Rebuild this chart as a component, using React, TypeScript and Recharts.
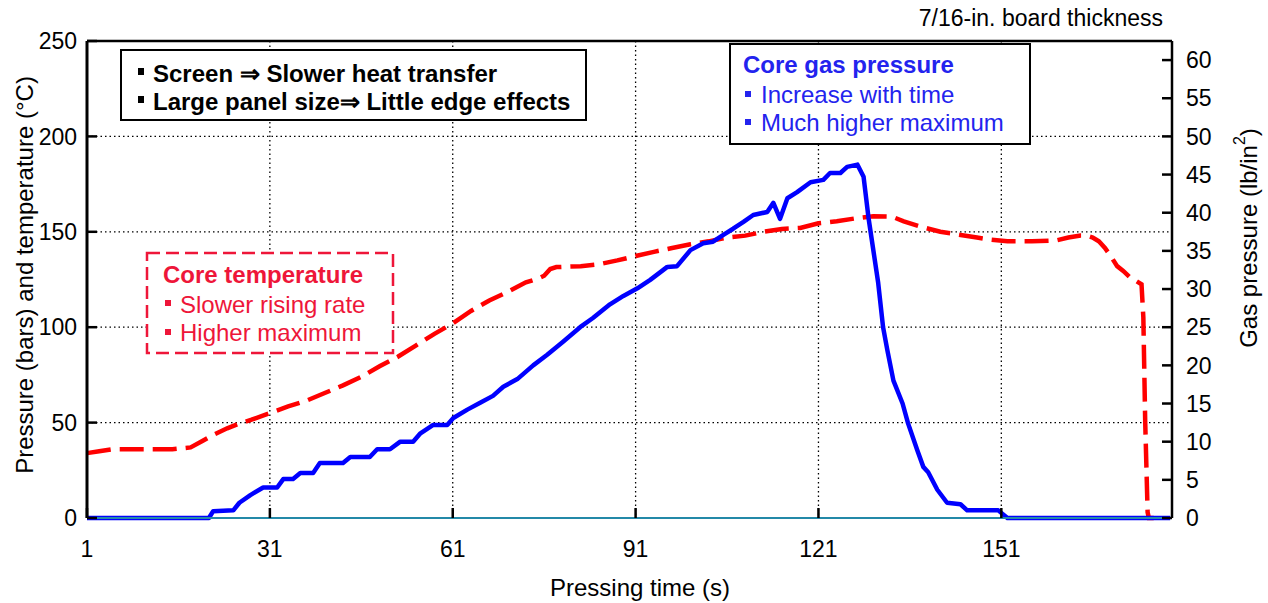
import React from 'react';
import { LineChart, Line, XAxis, YAxis, CartesianGrid, ReferenceLine } from 'recharts';

// core temperature (°C), left axis
const tempTime = [1, 3, 5, 10, 15, 18, 20, 22, 24, 26, 28, 31, 34, 37, 40, 43, 46, 49, 52, 55, 58, 61, 64, 67, 70, 73, 75, 76, 77, 78, 82, 85, 88, 91, 94, 97, 100, 103, 106, 109, 112, 115, 118, 121, 124, 127, 130, 133, 135, 138, 141, 144, 147, 149, 152, 156, 160, 162, 164, 165, 166, 167, 168, 169, 170, 171, 172, 173, 174, 174.3, 174.6, 175, 175.2, 176];
const tempValue = [34, 35, 36, 36, 36, 37, 40.5, 44, 47, 49.5, 51.5, 55, 58.5, 61.5, 65.5, 69.5, 74, 79.5, 84.5, 90.5, 96.5, 102, 108.5, 114, 118.5, 123.5, 125.5, 127, 130.5, 131.5, 132, 133, 135, 137.3, 139.5, 141.5, 143.5, 145, 147, 148, 150, 151.5, 152, 154.5, 155.5, 157, 158.2, 158, 155.5, 152.5, 150, 148.5, 147, 146, 145, 145, 145.5, 147, 148, 148, 147, 145, 141.5, 137, 132, 129.5, 126.5, 124.5, 122.5, 105, 51, 3, 0, 0];

// core gas pressure (lb/in2), right axis
const pressTime = [1, 21, 21.7, 25, 26, 27.8, 29.9, 32.2, 33.2, 34.8, 36, 38.1, 39.2, 43, 44.2, 47.4, 48.6, 50.7, 52.4, 54.5, 55.7, 57.8, 60.1, 61.1, 63.4, 65.5, 67.6, 69.3, 71.6, 74.2, 76.5, 79.1, 81.9, 84, 86.8, 89, 91.3, 93.4, 96.2, 97.8, 100, 102.1, 103.7, 105.4, 107, 108.7, 110.3, 112.6, 113.6, 114.7, 115.9, 117.5, 119.7, 121.8, 122.9, 124.6, 125.7, 127.4, 128.4, 129.2, 130, 130.8, 131.6, 132.3, 133.3, 134.8, 135.7, 137.2, 138.2, 139, 140.5, 142.1, 144.3, 145.4, 150.5, 152, 178.7];
const pressValue = [0, 0, 0.9, 1, 2, 3, 4, 4, 5.1, 5.1, 5.9, 5.9, 7.2, 7.2, 8, 8, 9, 9, 10, 10, 11.1, 12.2, 12.2, 13.1, 14.2, 15.1, 16, 17.2, 18.2, 20, 21.4, 23.1, 25, 26.2, 28, 29.1, 30.1, 31.2, 32.9, 33, 35.1, 36, 36.2, 37.1, 37.9, 38.8, 39.7, 40.1, 41.3, 39.2, 41.9, 42.7, 44, 44.3, 45.2, 45.2, 46, 46.3, 44.7, 39.4, 35.1, 30.8, 25, 22, 18, 15, 12.4, 8.9, 6.7, 6, 3.7, 2, 1.8, 1, 1, 0, 0];

const xTicks = [1, 31, 61, 91, 121, 151];
const leftTicks = [0, 50, 100, 150, 200, 250];
const rightTicks = [0, 5, 10, 15, 20, 25, 30, 35, 40, 45, 50, 55, 60];

const FONT = "'Liberation Sans', Arial, sans-serif";
const BLUE_TXT = '#2323ee';
const RED_TXT = '#ee1639';

const tempData = tempTime.map((t, i) => ({ t, temp: tempValue[i] }));
const pressData = pressTime.map((t, i) => ({ t, gas: pressValue[i] }));

const tickStyle = { fill: '#000', fontSize: 23, fontFamily: FONT };
const tickLineStyle = { stroke: '#000', strokeWidth: 2.5 };

function Notes() {
  const txt = { fontFamily: FONT, fontSize: 24 };
  return (
    <svg width={1268} height={603} style={{ position: 'absolute', left: 0, top: 0, pointerEvents: 'none' }}>
      <text x={1163} y={26} textAnchor="end" style={{ ...txt, fontSize: 23 }} fill="#000">7/16-in. board thickness</text>

      <text x={640} y={596} textAnchor="middle" style={txt} fill="#000">Pressing time (s)</text>
      <text transform="rotate(-90 24 275)" x={24} y={275} textAnchor="middle" dominantBaseline="central" style={txt} fill="#000">
        Pressure (bars) and temperature (°C)
      </text>
      <text transform="rotate(-90 1248 238)" x={1248} y={238} textAnchor="middle" dominantBaseline="central" style={txt} fill="#000">
        Gas pressure (lb/in<tspan dy={-9} fontSize={16}>2</tspan><tspan dy={9}>)</tspan>
      </text>

      <rect x={121} y={50} width={465} height={70} fill="#fff" stroke="#000" strokeWidth={2} />
      <rect x={138} y={68} width={6} height={7} fill="#000" />
      <rect x={138} y={96} width={6} height={7} fill="#000" />
      <text x={153} y={82} style={{ ...txt, fontWeight: 'bold' }} fill="#000">Screen ⇒ Slower heat transfer</text>
      <text x={153} y={110} style={{ ...txt, fontWeight: 'bold' }} fill="#000">Large panel size⇒ Little edge effects</text>

      <rect x={730} y={44} width={300} height={100} fill="#fff" stroke="#000" strokeWidth={2} />
      <text x={743} y={73} style={{ ...txt, fontWeight: 'bold' }} fill={BLUE_TXT}>Core gas pressure</text>
      <rect x={745} y={91} width={6} height={6} fill={BLUE_TXT} />
      <rect x={745} y={119} width={6} height={6} fill={BLUE_TXT} />
      <text x={761} y={103} style={txt} fill={BLUE_TXT}>Increase with time</text>
      <text x={761} y={131} style={txt} fill={BLUE_TXT}>Much higher maximum</text>

      <rect x={147} y={253} width={246} height={100} fill="#fff" stroke={RED_TXT} strokeWidth={2.5} strokeDasharray="13 6" />
      <text x={163} y={283} style={{ ...txt, fontWeight: 'bold' }} fill={RED_TXT}>Core temperature</text>
      <rect x={165} y={300} width={6} height={6} fill={RED_TXT} />
      <rect x={165} y={329} width={6} height={6} fill={RED_TXT} />
      <text x={180} y={313} style={txt} fill={RED_TXT}>Slower rising rate</text>
      <text x={180} y={341} style={txt} fill={RED_TXT}>Higher maximum</text>
    </svg>
  );
}

export default function App() {
  return (
    <div style={{ position: 'absolute', left: 0, top: 0, width: 1268, height: 603, background: '#fff' }}>
      <LineChart width={1268} height={603} margin={{ top: 41, right: 36, bottom: 25, left: 27 }}>
        <CartesianGrid yAxisId="left" stroke="#000" strokeWidth={1.3} strokeDasharray="1.5 3" />
        <XAxis
          type="number"
          dataKey="t"
          domain={[1, 179]}
          ticks={xTicks}
          height={60}
          tick={tickStyle}
          tickLine={tickLineStyle}
          tickSize={-10}
          tickMargin={33}
          axisLine={{ stroke: '#2389a8', strokeWidth: 2 }}
        />
        <YAxis
          yAxisId="left"
          domain={[0, 250]}
          ticks={leftTicks}
          width={60}
          tick={tickStyle}
          tickLine={tickLineStyle}
          tickSize={-10}
          tickMargin={20}
          axisLine={{ stroke: '#000', strokeWidth: 3 }}
        />
        <YAxis
          yAxisId="right"
          orientation="right"
          domain={[0, 62.5]}
          ticks={rightTicks}
          width={60}
          tick={tickStyle}
          tickLine={tickLineStyle}
          tickSize={-10}
          tickMargin={24}
          axisLine={{ stroke: '#000', strokeWidth: 2.5 }}
        />
        <ReferenceLine yAxisId="left" y={250} stroke="#000" strokeWidth={2.5} />
        <Line
          data={tempData}
          dataKey="temp"
          yAxisId="left"
          type="linear"
          stroke="#ff0000"
          strokeWidth={4.5}
          strokeDasharray="24 9"
          dot={false}
          isAnimationActive={false}
        />
        <Line
          data={pressData}
          dataKey="gas"
          yAxisId="right"
          type="linear"
          stroke="#0000ff"
          strokeWidth={4.5}
          strokeLinejoin="round"
          dot={false}
          isAnimationActive={false}
        />
      </LineChart>
      <Notes />
    </div>
  );
}
